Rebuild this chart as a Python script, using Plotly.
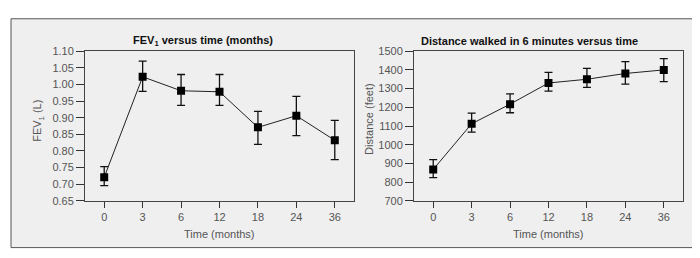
import plotly.graph_objects as go

months = ["0", "3", "6", "12", "18", "24", "36"]

fev1 = [0.721, 1.023, 0.981, 0.978, 0.871, 0.906, 0.832]
fev1_hi = [0.753, 1.070, 1.030, 1.030, 0.919, 0.964, 0.892]
fev1_lo = [0.696, 0.979, 0.937, 0.937, 0.820, 0.846, 0.774]

dist = [868, 1112, 1217, 1330, 1350, 1381, 1400]
dist_hi = [920, 1169, 1272, 1387, 1408, 1444, 1460]
dist_lo = [824, 1068, 1171, 1287, 1307, 1324, 1337]

fev_ticks = [0.65, 0.70, 0.75, 0.80, 0.85, 0.90, 0.95, 1.00, 1.05, 1.10]
dist_ticks = [700, 800, 900, 1000, 1100, 1200, 1300, 1400, 1500]

W, H = 700, 258
fig = go.Figure()

def err(v, hi, lo):
    return dict(type="data", symmetric=False,
                array=[h - x for h, x in zip(hi, v)],
                arrayminus=[x - l for l, x in zip(lo, v)],
                color="#111", thickness=1.3, width=4)

fig.add_trace(go.Scatter(x=months, y=fev1, mode="lines+markers",
                         line=dict(color="#222", width=1),
                         marker=dict(symbol="square", size=8, color="#000"),
                         error_y=err(fev1, fev1_hi, fev1_lo),
                         xaxis="x", yaxis="y", showlegend=False))
fig.add_trace(go.Scatter(x=months, y=dist, mode="lines+markers",
                         line=dict(color="#222", width=1),
                         marker=dict(symbol="square", size=8, color="#000"),
                         error_y=err(dist, dist_hi, dist_lo),
                         xaxis="x2", yaxis="y2", showlegend=False))

tickfont = dict(family="Liberation Sans, Arial, sans-serif", size=11, color="#555")
y0, y1 = (H - 196) / H, (H - 39) / H

common_x = dict(type="category", categoryorder="array", categoryarray=months,
                range=[-0.5, 6.5], showline=True, linecolor="#444", linewidth=1,
                mirror=True, ticks="outside", ticklen=6, tickcolor="#333",
                showgrid=False, zeroline=False, tickfont=tickfont)
common_y = dict(showline=True, linecolor="#444", linewidth=1, mirror=True,
                ticks="outside", ticklen=8, tickcolor="#333", showgrid=False,
                zeroline=False, tickfont=tickfont)

fig.update_layout(
    width=W, height=H,
    margin=dict(l=0, r=0, t=0, b=0),
    paper_bgcolor="white", plot_bgcolor="white",
    xaxis=dict(domain=[77 / W, 346 / W], anchor="y", **common_x),
    yaxis=dict(domain=[y0, y1], anchor="x", range=[0.65, 1.10],
               tickvals=fev_ticks, tickformat=".2f", **common_y),
    xaxis2=dict(domain=[406 / W, 675 / W], anchor="y2", **common_x),
    yaxis2=dict(domain=[y0, y1], anchor="x2", range=[700, 1500],
                tickvals=dist_ticks, **common_y),
    shapes=[dict(type="rect", xref="paper", yref="paper",
                 x0=3 / W, x1=693 / W, y0=(H - 245) / H, y1=(H - 5) / H,
                 fillcolor="#efefef", line=dict(color="#555", width=1),
                 layer="below")],
)

lab = dict(family="Liberation Sans, Arial, sans-serif", size=11, color="#555")
ttl = dict(family="Liberation Sans, Arial, sans-serif", size=11, color="#111")
annots = [
    dict(text="<b>FEV<sub>1</sub> versus time (months)</b>", x=195 / W, y=(H - 28) / H, font=ttl),
    dict(text="<b>Distance walked in 6 minutes versus time</b>", x=521 / W, y=(H - 28) / H, font=ttl),
    dict(text="Time (months)", x=211 / W, y=(H - 231) / H, font=lab),
    dict(text="Time (months)", x=540 / W, y=(H - 231) / H, font=lab),
    dict(text="FEV<sub>1</sub> (L)", x=30 / W, y=(H - 112) / H, font=lab, textangle=-90),
    dict(text="Distance (feet)", x=361 / W, y=(H - 110) / H, font=lab, textangle=-90),
]
for a in annots:
    fig.add_annotation(xref="paper", yref="paper", showarrow=False,
                       xanchor="center", yanchor="middle", **a)

fig.write_html("out.html")
